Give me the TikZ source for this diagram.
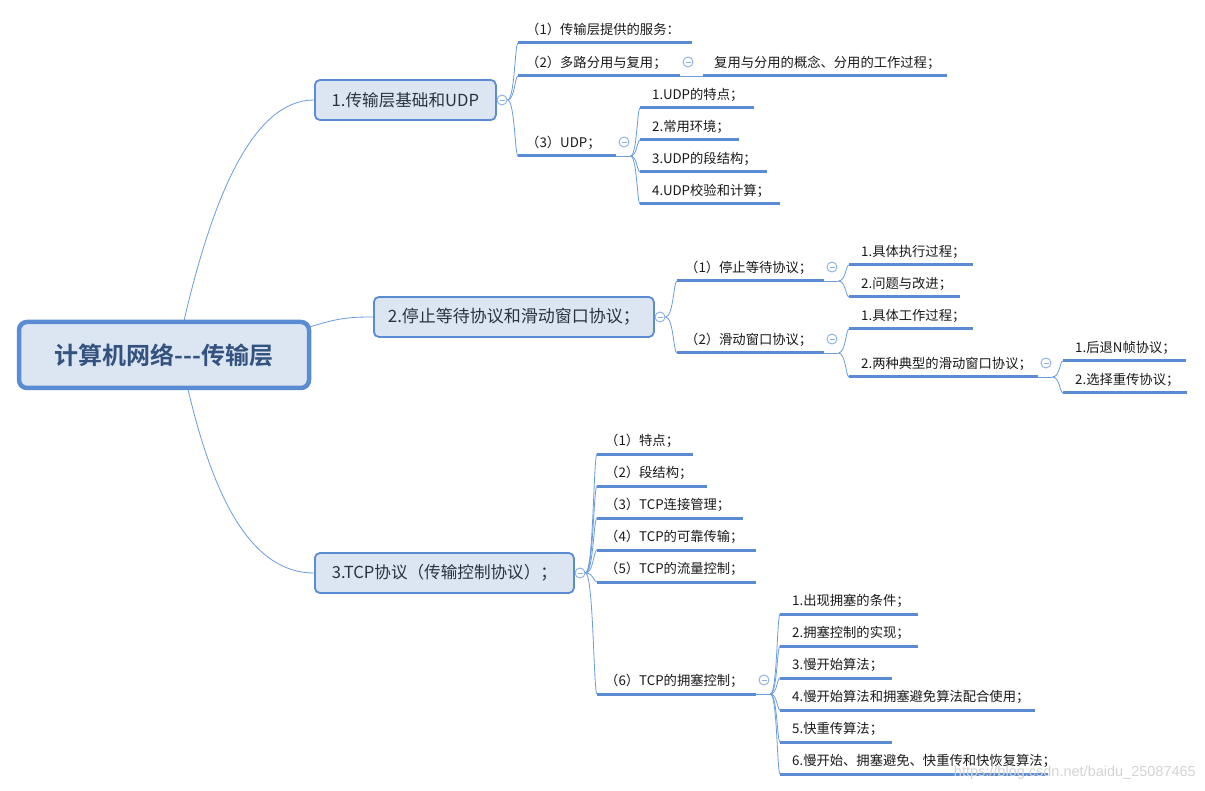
\documentclass[tikz,border=0pt]{standalone}
\usepackage{fontspec}
\setmainfont{Noto Sans CJK SC}[BoldFont={Noto Sans CJK SC Bold}]
\newfontfamily\wmfont{Liberation Sans}
\usetikzlibrary{calc}
\definecolor{ulc}{HTML}{5B8BD2}
\definecolor{lnc}{HTML}{6B9BE0}
\definecolor{boxc}{HTML}{5B8BD2}
\definecolor{fillc}{HTML}{DCE6F2}
\definecolor{foldc}{HTML}{8CAEE0}
\definecolor{maintxt}{HTML}{2A3440}
\definecolor{roottxt}{HTML}{34527F}
\definecolor{leaftxt}{HTML}{1A1A1A}
\definecolor{wmc}{HTML}{D4D4D4}
\pgfdeclarelayer{bg}
\pgfdeclarelayer{paper}
\pgfsetlayers{paper,bg,main}
\tikzset{
  leaf/.style={anchor=south west, inner xsep=0pt, inner ysep=5.5pt, text height=9.5pt, text depth=3pt, align=left, font=\fontsize{13.3}{15}\selectfont, text=leaftxt},
  ul/.style={draw=ulc, line width=3pt},
  conn/.style={draw=lnc, line width=0.8pt},
  mainbox/.style={draw=boxc, line width=1.8pt, fill=fillc, rounded corners=5pt, minimum height=40pt, anchor=west, text=maintxt, inner sep=0pt},
  rootbox/.style={draw=boxc, line width=4.5pt, fill=fillc, rounded corners=8pt, minimum width=290pt, minimum height=66pt, text=roottxt, font=\fontsize{24}{28}\selectfont\bfseries},
  fold/.style={circle, draw=foldc, line width=0.9pt, fill=white, minimum size=10pt, inner sep=0pt,
    path picture={\draw[foldc, line width=0.9pt] ([xshift=-2.5pt]path picture bounding box.center) -- ([xshift=2.5pt]path picture bounding box.center);}},
  wm/.style={text=wmc, font=\wmfont\fontsize{14.5}{16}\selectfont, inner sep=0pt}
}
\newcommand\lf[6]{\pgfmathsetmacro\lw{#4-#2}\node[leaf, text width=\lw pt] (#1) at (#2,#3) {\hspace*{#5pt}#6};}
\newcommand\brc[2]{\draw[conn] (#1) .. controls ($(#1)!0.7!(#2|-#1)$) and ($(#1|-#2)!0.7!(#2)$) .. (#2);}
\begin{document}
\begin{tikzpicture}[x=1pt,y=-1pt]
\begin{pgfonlayer}{paper}
\fill[white] (0,0) rectangle (1205,791);
\end{pgfonlayer}
\useasboundingbox (0,0) rectangle (1205,791);
% root and main topics
\node[rootbox] (R) at (164,355) {计算机网络-{}-{}-传输层};
\node[mainbox, minimum width=181pt, font=\fontsize{16.6}{19}\selectfont] (B1) at (314,100) {1.传输层基础和UDP};
\node[mainbox, minimum width=280pt, font=\fontsize{17}{19}\selectfont] (B2) at (373,317) {2.停止等待协议和滑动窗口协议；};
\node[mainbox, minimum width=259pt, font=\fontsize{16.6}{19}\selectfont] (B3) at (314,573) {3.TCP协议（传输控制协议）；};
% branch 1 leaves
\lf{a1}{518}{43}{692}{8}{（1）传输层提供的服务：}
\lf{a2}{518}{76}{680}{8}{（2）多路分用与复用；}
\lf{a21}{703}{76}{947}{11}{复用与分用的概念、分用的工作过程；}
\lf{a3}{518}{156}{616}{8}{（3）UDP；}
\lf{a31}{640}{108}{754}{12}{1.UDP的特点；}
\lf{a32}{640}{140}{739}{12}{2.常用环境；}
\lf{a33}{640}{172}{767}{12}{3.UDP的段结构；}
\lf{a34}{640}{204}{780}{12}{4.UDP校验和计算；}
% branch 2 leaves
\lf{b1}{677}{281}{824}{8}{（1）停止等待协议；}
\lf{b11}{849}{265}{973}{12}{1.具体执行过程；}
\lf{b12}{849}{297}{960}{12}{2.问题与改进；}
\lf{b2}{677}{353}{824}{8}{（2）滑动窗口协议；}
\lf{b21}{849}{329}{973}{12}{1.具体工作过程；}
\lf{b22}{849}{377}{1038}{12}{2.两种典型的滑动窗口协议；}
\lf{b221}{1063}{361}{1186}{12}{1.后退N帧协议；}
\lf{b222}{1063}{393}{1187}{12}{2.选择重传协议；}
% branch 3 leaves
\lf{c1}{597}{454}{693}{8}{（1）特点；}
\lf{c2}{597}{486}{707}{8}{（2）段结构；}
\lf{c3}{597}{518}{743}{8}{（3）TCP连接管理；}
\lf{c4}{597}{550}{756}{8}{（4）TCP的可靠传输；}
\lf{c5}{597}{582}{756}{8}{（5）TCP的流量控制；}
\lf{c6}{597}{694}{756}{8}{（6）TCP的拥塞控制；}
\lf{c61}{780}{614}{918}{12}{1.出现拥塞的条件；}
\lf{c62}{780}{646}{918}{12}{2.拥塞控制的实现；}
\lf{c63}{780}{678}{892}{12}{3.慢开始算法；}
\lf{c64}{780}{710}{1035}{12}{4.慢开始算法和拥塞避免算法配合使用；}
\lf{c65}{780}{742}{892}{12}{5.快重传算法；}
\lf{c66}{780}{774}{1048}{12}{6.慢开始、拥塞避免、快重传和快恢复算法；}
% underlines
\foreach \n in {a1,a2,a21,a3,a31,a32,a33,a34,b1,b11,b12,b2,b21,b22,b221,b222,c1,c2,c3,c4,c5,c6,c61,c62,c63,c64,c65,c66}
  \draw[ul] (\n.south west) -- (\n.south east);
% fold markers
\node[fold] (fB1) at (502,100) {};
\node[fold] (fB2) at (660,317) {};
\node[fold] (fB3) at (580,573) {};
\node[fold] (fa2) at (688,62) {};
\node[fold] (fa3) at (624,142) {};
\node[fold] (fb1) at (832,267) {};
\node[fold] (fb2) at (832,339) {};
\node[fold] (fb22) at (1046,363) {};
\node[fold] (fc6) at (764,680) {};
% split points
\coordinate (sa3) at ($(a3.south east)+(14,0)$);
\coordinate (sb1) at ($(b1.south east)+(14,0)$);
\coordinate (sb2) at ($(b2.south east)+(14,0)$);
\coordinate (sb22) at ($(b22.south east)+(14,0)$);
\coordinate (sc6) at ($(c6.south east)+(14,0)$);
\coordinate (r1) at ($(R.north)+(20,1)$);
\coordinate (r2) at ($(R.north east)+(-1,7)$);
\coordinate (r3) at ($(R.south)+(24,-1)$);
\begin{pgfonlayer}{bg}
  % root to main topics
  \draw[conn] (r1) .. controls (212,200) and (252,100) .. (B1.west);
  \draw[conn] (r2) .. controls (338,318) and (350,317) .. (B2.west);
  \draw[conn] (r3) .. controls (214,500) and (252,573) .. (B3.west);
  % main topics to folds
  \draw[conn] (B1.east) -- (fB1.center);
  \draw[conn] (B2.east) -- (fB2.center);
  \draw[conn] (B3.east) -- (fB3.center);
  % branch 1
  \brc{fB1.east}{a1.south west}
  \brc{fB1.east}{a2.south west}
  \brc{fB1.east}{a3.south west}
  \draw[conn] (a2.south east) -- (a21.south west);
  \draw[conn] (a3.south east) -- (sa3);
  \foreach \n in {a31,a32,a33,a34} {\brc{sa3}{\n.south west}}
  % branch 2
  \brc{fB2.east}{b1.south west}
  \brc{fB2.east}{b2.south west}
  \draw[conn] (b1.south east) -- (sb1);
  \brc{sb1}{b11.south west}
  \brc{sb1}{b12.south west}
  \draw[conn] (b2.south east) -- (sb2);
  \brc{sb2}{b21.south west}
  \brc{sb2}{b22.south west}
  \draw[conn] (b22.south east) -- (sb22);
  \brc{sb22}{b221.south west}
  \brc{sb22}{b222.south west}
  % branch 3
  \foreach \n in {c1,c2,c3,c4,c5,c6} {\brc{fB3.east}{\n.south west}}
  \draw[conn] (c6.south east) -- (sc6);
  \foreach \n in {c61,c62,c63,c64,c65,c66} {\brc{sc6}{\n.south west}}
\end{pgfonlayer}
% watermark
\node[wm, anchor=east] (wm) at (1196,773) {https://blog.csdn.net/baidu\_25087465};
\end{tikzpicture}
\end{document}
